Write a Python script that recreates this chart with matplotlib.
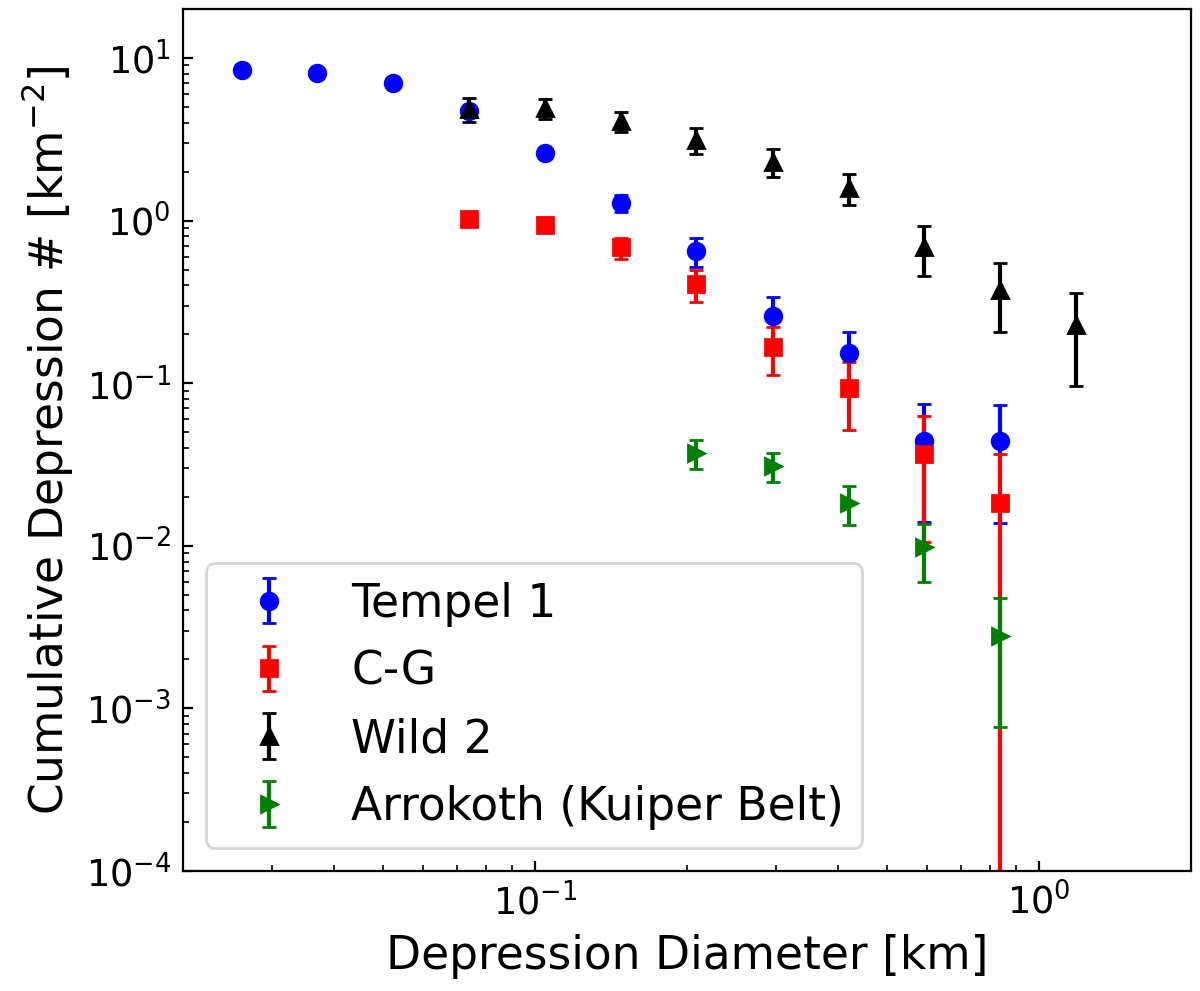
import numpy as np
import matplotlib
matplotlib.use('Agg')
import matplotlib.pyplot as plt

# crater bin diameters [km]
diam = [0.0262, 0.0370, 0.0523, 0.0740, 0.1047, 0.148, 0.209, 0.296, 0.419, 0.592, 0.837, 1.184]

tempel_d = diam[0:11]
tempel_n = [8.39, 8.12, 7.05, 4.73, 2.60, 1.28, 0.647, 0.259, 0.153, 0.0440, 0.0438]
tempel_err = [0.30, 0.30, 0.28, 0.23, 0.17, 0.15, 0.13, 0.08, 0.053, 0.030, 0.030]

cg_d = diam[3:11]
cg_n = [1.02, 0.94, 0.684, 0.406, 0.167, 0.0933, 0.0365, 0.0184]
cg_err = [0.08, 0.08, 0.10, 0.09, 0.055, 0.042, 0.026, 0.0184]

wild_d = diam[3:12]
wild_n = [4.88, 4.90, 4.08, 3.14, 2.30, 1.585, 0.69, 0.375, 0.228]
wild_err = [0.83, 0.70, 0.57, 0.57, 0.44, 0.345, 0.233, 0.17, 0.132]

arro_d = diam[6:11]
arro_n = [0.0370, 0.0311, 0.01835, 0.00985, 0.00277]
arro_err = [0.0075, 0.0063, 0.0050, 0.00385, 0.0020]

fig = plt.figure(figsize=(6, 4.955), dpi=200)
ax = fig.add_axes([0.1523, 0.1211, 0.84, 0.8698])

ax.errorbar(tempel_d, tempel_n, yerr=tempel_err, fmt='o', color='b', capsize=2.5, label='Tempel 1')
ax.errorbar(cg_d, cg_n, yerr=cg_err, fmt='s', color='r', capsize=2.5, label='C-G')
ax.errorbar(wild_d, wild_n, yerr=wild_err, fmt='^', color='k', capsize=2.5, label='Wild 2')
ax.errorbar(arro_d, arro_n, yerr=arro_err, fmt='>', color='g', capsize=2.5, label='Arrokoth (Kuiper Belt)')

ax.set_xscale('log')
ax.set_yscale('log')
ax.set_xlim(0.02, 2)
ax.set_ylim(1e-4, 20)
ax.tick_params(which='both', direction='in', labelsize=13.2, pad=4.2)
ax.set_xlabel('Depression Diameter [km]', fontsize=16.4)
ax.set_ylabel('Cumulative Depression # [km$^{-2}$]', fontsize=16.4)
ax.legend(loc='lower left', fontsize=16.4)

fig.savefig('out.png', dpi=200)
